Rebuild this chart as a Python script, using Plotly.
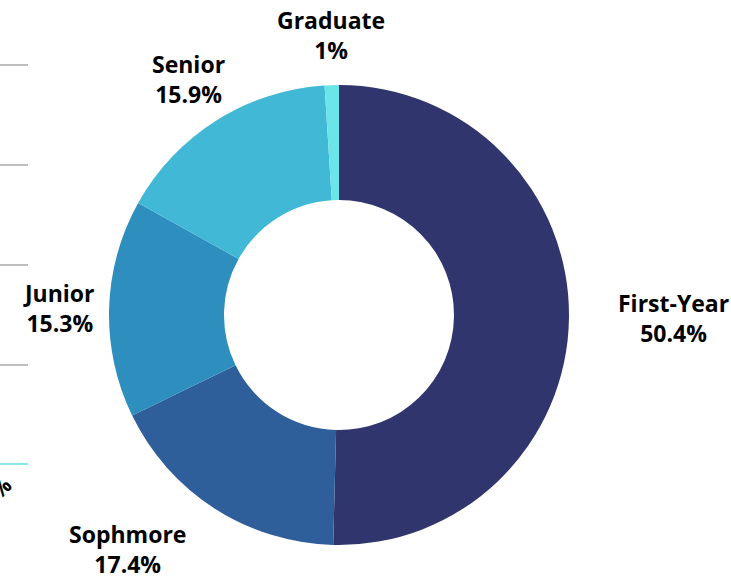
import plotly.graph_objects as go

# données
niveaux = ["First-Year", "Sophmore", "Junior", "Senior", "Graduate"]
parts = [50.4, 17.4, 15.3, 15.9, 1]
couleurs = ["#31356E", "#2E5F9A", "#2E8FBF", "#41B8D5", "#6CE5E8"]

# fragment du graphique voisin (coupé à gauche)
frag_cat = ["<b>1%</b>"]
frag_val = [0.02]

W, H = 731, 577
# centres des étiquettes (px) — placement manuel comme l'original
POS = {"First-Year": (673, 318), "Sophmore": (127, 549), "Junior": (59, 308),
       "Senior": (188, 79), "Graduate": (331, 35)}

fig = go.Figure()

fig.add_trace(go.Pie(
    labels=niveaux, values=parts, sort=False, direction="clockwise", rotation=0,
    hole=0.5, marker=dict(colors=couleurs, line=dict(width=0)),
    textinfo="none",
    domain=dict(x=[109/W, 569/W], y=[32/H, 492/H]),
    showlegend=False, hovertemplate="%{label} : %{value}%<extra></extra>"))

for nom, val in zip(niveaux, parts):
    px, py = POS[nom]
    fig.add_annotation(x=px/W, y=1 - py/H, xref="paper", yref="paper",
                       text=f"<b>{nom}</b><br><b>{val:g}%</b>", showarrow=False,
                       xanchor="center", yanchor="middle", align="center",
                       font=dict(family="Open Sans", size=23, color="black"))

fig.add_trace(go.Bar(
    x=frag_cat, y=frag_val, marker=dict(color="#6CE5E8"), width=2,
    showlegend=False, hoverinfo="skip", xaxis="x", yaxis="y"))

fig.update_layout(
    width=W, height=H,
    margin=dict(l=0, r=0, t=0, b=0),
    paper_bgcolor="white", plot_bgcolor="white",
    font=dict(family="Open Sans", color="black"),
    xaxis=dict(domain=[0, 28/W], showgrid=False, zeroline=False, showline=False,
               tickangle=-45, tickfont=dict(size=21, family="Open Sans", color="black"),
               range=[-0.2, 0.8], automargin=False, ticklabelstandoff=3),
    yaxis=dict(domain=[112/H, 0.95], range=[0, 4.36], dtick=1, showgrid=True,
               gridcolor="#BFBFBF", gridwidth=2, zeroline=False, showticklabels=False,
               automargin=False),
)

# pas de marge de page : la figure occupe toute la fenêtre
fig.write_html("out.html", config={"displayModeBar": False},
               post_script="document.body.style.margin='0';")
